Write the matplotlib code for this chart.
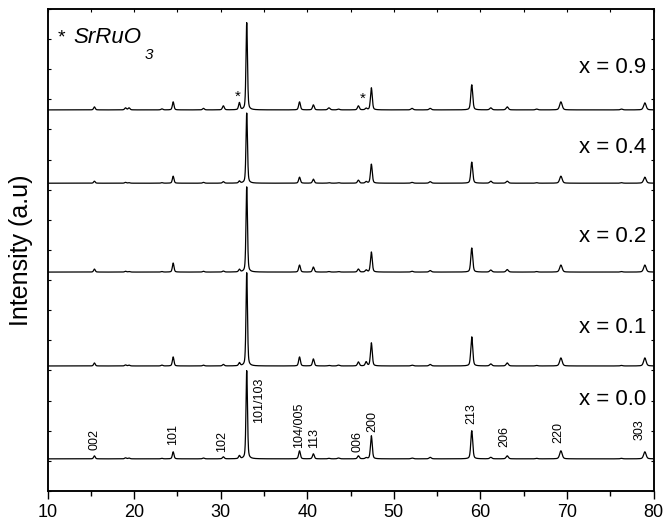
import numpy as np
import matplotlib
matplotlib.use('Agg')
import matplotlib.pyplot as plt

plt.rcParams['font.family'] = ['Liberation Sans', 'DejaVu Sans']

# reflection positions (2 theta, deg) and widths (FWHM, deg)
peak_pos = [15.4, 19.0, 19.4, 23.2, 24.5, 28.0, 30.3, 32.15, 33.0, 39.1, 40.7, 42.5, 43.6,
            45.9, 46.8, 47.4, 52.1, 54.2, 59.0, 61.2, 63.1, 66.5, 69.3, 76.3, 79.0]
peak_fwhm = [0.22, 0.25, 0.25, 0.25, 0.22, 0.25, 0.25, 0.22, 0.2, 0.24, 0.24, 0.3, 0.3,
             0.25, 0.25, 0.24, 0.3, 0.3, 0.26, 0.3, 0.3, 0.3, 0.34, 0.3, 0.34]

# peak intensities for each composition
h_00 = [30, 10, 8, 5, 70, 8, 20, 30, 880, 80, 50, 5, 8, 30, 10, 230, 8, 15, 280, 15, 30, 5, 80, 5, 70]
h_01 = [30, 10, 8, 8, 90, 8, 15, 30, 930, 90, 70, 5, 8, 40, 40, 230, 8, 15, 290, 20, 30, 5, 80, 5, 80]
h_02 = [30, 8, 5, 5, 90, 8, 10, 25, 850, 70, 50, 5, 5, 30, 20, 200, 8, 15, 240, 20, 25, 5, 70, 5, 70]
h_04 = [20, 8, 5, 5, 70, 8, 15, 20, 700, 60, 40, 5, 5, 30, 15, 190, 8, 15, 210, 20, 20, 5, 70, 5, 60]
h_09 = [30, 20, 20, 10, 80, 15, 40, 70, 870, 80, 50, 20, 8, 40, 15, 220, 15, 15, 250, 20, 30, 8, 80, 8, 70]

compositions = ['x = 0.0', 'x = 0.1', 'x = 0.2', 'x = 0.4', 'x = 0.9']
heights = [h_00, h_01, h_02, h_04, h_09]
offsets = [320, 1245, 2180, 3065, 3795]
label_y = [916, 1633, 2530, 3416, 4222]

# Miller indices for x = 0.0
hkl = ['002', '101', '102', '101/103', '104/005', '113', '006', '200', '213', '206', '220', '303']
hkl_x = [15.43, 24.44, 30.2, 34.37, 38.99, 40.73, 45.81, 47.54, 58.98, 62.79, 69.03, 78.39]
hkl_y = [408, 458, 388, 677, 428, 428, 388, 588, 667, 438, 478, 508]

# SrRuO3 impurity marks on x = 0.9
star_x = [31.95, 46.4]
star_y = [3924, 3904]


def pattern(tt, h):
    y = np.zeros_like(tt)
    for p, w, a in zip(peak_pos, peak_fwhm, h):
        g = np.exp(-4 * np.log(2) * ((tt - p) / w) ** 2)
        l = 1 / (1 + 4 * ((tt - p) / w) ** 2)
        y += a * (0.6 * g + 0.4 * l)
    return y


tt = np.linspace(10, 80, 4001)

fig = plt.figure(figsize=(6.64, 5.28), dpi=100)
ax = fig.add_axes([0.0718, 0.0701, 0.9124, 0.9129])

for h, off, lab, ly in zip(heights, offsets, compositions, label_y):
    ax.plot(tt, pattern(tt, h) + off, color='k', lw=0.9)
    ax.text(79.2, ly, lab, ha='right', va='center', fontsize=16)

for s, x, y in zip(hkl, hkl_x, hkl_y):
    ax.text(x, y, s, rotation=90, ha='center', va='bottom', fontsize=9)

for x, y in zip(star_x, star_y):
    ax.text(x, y, '*', ha='center', va='center', fontsize=11)

# legend for the impurity marks
ax.text(11.2, 4462, '*', ha='left', va='baseline', fontsize=14)
ax.text(13.0, 4462, 'SrRuO', ha='left', va='baseline', fontsize=16, style='italic')
ax.text(21.2, 4412, '3', ha='left', va='top', fontsize=11, style='italic')

ax.set_xlim(10, 80)
ax.set_ylim(0, 4800)
ax.set_xticks(np.arange(10, 81, 10))
ax.set_xticks(np.arange(15, 80, 10), minor=True)
ax.set_yticks(np.arange(0, 4801, 300))
ax.set_yticklabels([])
ax.tick_params(axis='x', which='major', direction='out', length=6, width=1, labelsize=13)
ax.tick_params(axis='x', which='minor', direction='out', length=3.5, width=1)
ax.tick_params(axis='y', direction='in', length=2.5, width=0.8, left=True, right=True)
ax.set_ylabel('Intensity (a.u)', fontsize=18, labelpad=7)

top = ax.twiny()
top.set_xlim(10, 80)
top.set_xticks(np.arange(10, 81, 5))
top.set_xticklabels([])
top.tick_params(axis='x', direction='in', length=2, width=0.8)

for a in (ax, top):
    for sp in a.spines.values():
        sp.set_linewidth(1.1)

fig.savefig('out.png', dpi=100)
